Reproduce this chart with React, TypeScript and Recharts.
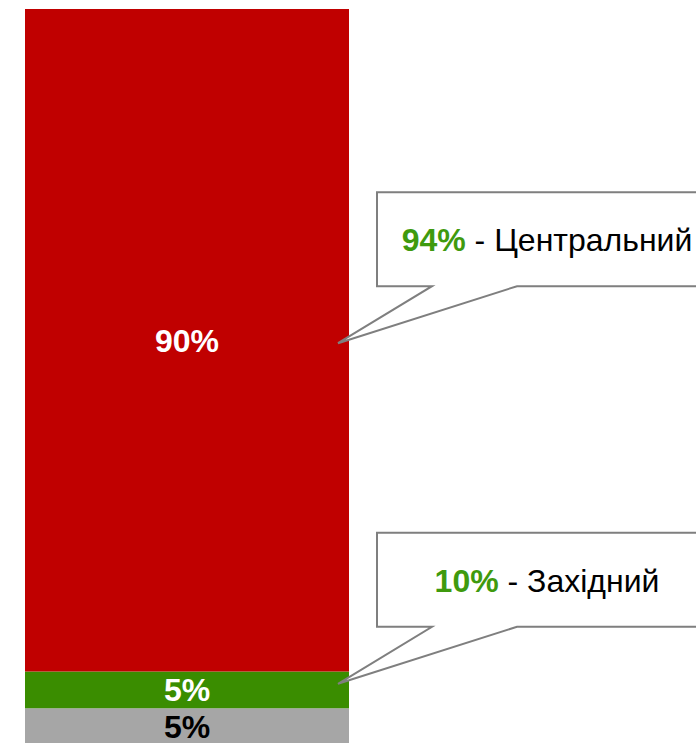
import { Bar, BarChart, LabelList, XAxis, YAxis } from 'recharts';

// single stacked column, bottom -> top
const categories = ['Регіон'];
const greyValues = [5];
const greenValues = [5];
const redValues = [90];

// callout labels
const centralShare = '94%';
const centralName = 'Центральний';
const westShare = '10%';
const westName = 'Західний';

const data = categories.map((name, i) => ({
  name,
  grey: greyValues[i],
  green: greenValues[i],
  red: redValues[i]
}));

const FONT = '"Liberation Sans", Arial, sans-serif';

type CalloutProps = {
  x?: number;
  y?: number;
  width?: number;
  height?: number;
  share: string;
  name: string;
  dy: number;
};

function Callout({ x, y, width, height, share, name, dy }: CalloutProps) {
  if (typeof x !== 'number' || typeof y !== 'number' || typeof width !== 'number' || typeof height !== 'number') {
    return null;
  }
  const px = x + width - 11;
  const py = y + height / 2 + dy;
  const bx = px + 39;
  const by = py - 151;
  const w = 340;
  const h = 94;
  const path = [
    `M${bx},${by}`,
    `L${bx + w},${by}`,
    `L${bx + w},${by + h}`,
    `L${bx + 140},${by + h}`,
    `L${px},${py}`,
    `L${bx + 55},${by + h}`,
    `L${bx},${by + h}`,
    'Z'
  ].join(' ');
  return (
    <g>
      <path d={path} fill="#ffffff" stroke="#7f7f7f" strokeWidth={2} />
      <text x={bx + w / 2} y={by + h / 2 + 12} textAnchor="middle" fontFamily={FONT} fontSize={32}>
        <tspan fill="#3f9a0e" fontWeight="bold">{share}</tspan>
        <tspan fill="#000000">{' - ' + name}</tspan>
      </text>
    </g>
  );
}

export default function App() {
  return (
    <div style={{ position: 'absolute', left: 0, top: 0, width: 696, height: 743, overflow: 'hidden', background: '#fff' }}>
      <BarChart
        width={696}
        height={760}
        data={data}
        margin={{ top: 9, right: 347, bottom: 15, left: 25 }}
        barCategoryGap={0}
      >
        <XAxis dataKey="name" hide />
        <YAxis hide domain={[0, 100]} />
        <Bar dataKey="grey" stackId="a" fill="#a6a6a6" isAnimationActive={false}>
          <LabelList
            dataKey="grey"
            position="center"
            formatter={(v: number) => `${v}%`}
            fill="#000000"
            fontSize={32}
            fontWeight="bold"
            fontFamily={FONT}
          />
        </Bar>
        <Bar dataKey="green" stackId="a" fill="#3a8d00" isAnimationActive={false}>
          <LabelList
            dataKey="green"
            position="center"
            formatter={(v: number) => `${v}%`}
            fill="#ffffff"
            fontSize={32}
            fontWeight="bold"
            fontFamily={FONT}
          />
          <LabelList
            dataKey="green"
            content={(props: any) => <Callout {...props} share={westShare} name={westName} dy={-6} />}
          />
        </Bar>
        <Bar dataKey="red" stackId="a" fill="#c00000" isAnimationActive={false}>
          <LabelList
            dataKey="red"
            position="center"
            formatter={(v: number) => `${v}%`}
            fill="#ffffff"
            fontSize={32}
            fontWeight="bold"
            fontFamily={FONT}
          />
          <LabelList
            dataKey="red"
            content={(props: any) => <Callout {...props} share={centralShare} name={centralName} dy={3} />}
          />
        </Bar>
      </BarChart>
    </div>
  );
}
